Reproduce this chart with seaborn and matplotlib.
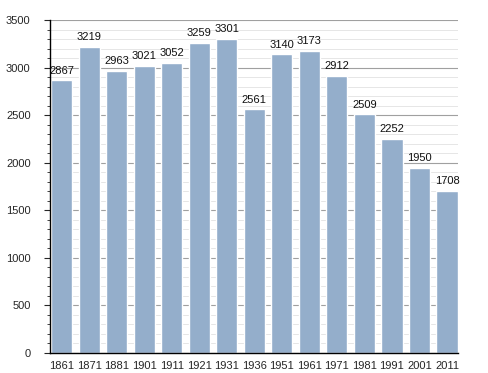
import numpy as np
import pandas as pd
import seaborn as sns
import matplotlib.pyplot as plt
from matplotlib.ticker import MultipleLocator

years = ["1861", "1871", "1881", "1901", "1911", "1921", "1931", "1936",
         "1951", "1961", "1971", "1981", "1991", "2001", "2011"]
population = [2867, 3219, 2963, 3021, 3052, 3259, 3301, 2561,
              3140, 3173, 2912, 2509, 2252, 1950, 1708]

df = pd.DataFrame({"year": years, "population": population})

sns.set_style("white")
plt.rcParams["font.family"] = ["Liberation Sans", "DejaVu Sans"]
fig = plt.figure(figsize=(4.88, 3.73), dpi=100)
ax = fig.add_axes([0.1025, 0.0536, 0.836, 0.8924])

ax.yaxis.set_major_locator(MultipleLocator(500))
ax.yaxis.set_minor_locator(MultipleLocator(100))
ax.grid(which="major", axis="y", color="#a0a0a0", linewidth=0.8)
ax.grid(which="minor", axis="y", color="#e2e2e2", linewidth=0.6)
ax.set_axisbelow(True)

sns.barplot(data=df, x="year", y="population", color="#94aecb",
            saturation=1, width=0.77, ax=ax)

# value labels over each bar
for i, v in enumerate(population):
    ax.text(i, v + 50, str(v), ha="center", va="bottom", fontsize=8, color="#111111")

ax.set_xlim(-0.42, 14.4)
ax.set_ylim(0, 3500)
ax.set_xlabel("")
ax.set_ylabel("")
sns.despine(ax=ax, top=True, right=True)
ax.spines["left"].set_color("black")
ax.spines["bottom"].set_color("black")
ax.spines["left"].set_linewidth(1.0)
ax.spines["bottom"].set_linewidth(1.0)
ax.tick_params(axis="y", which="major", left=True, length=4, width=0.8, labelsize=8, pad=10)
ax.tick_params(axis="y", which="minor", left=True, length=2, width=0.6)
ax.tick_params(axis="x", bottom=False, labelsize=8, pad=2)

fig.savefig("out.png", dpi=100)
